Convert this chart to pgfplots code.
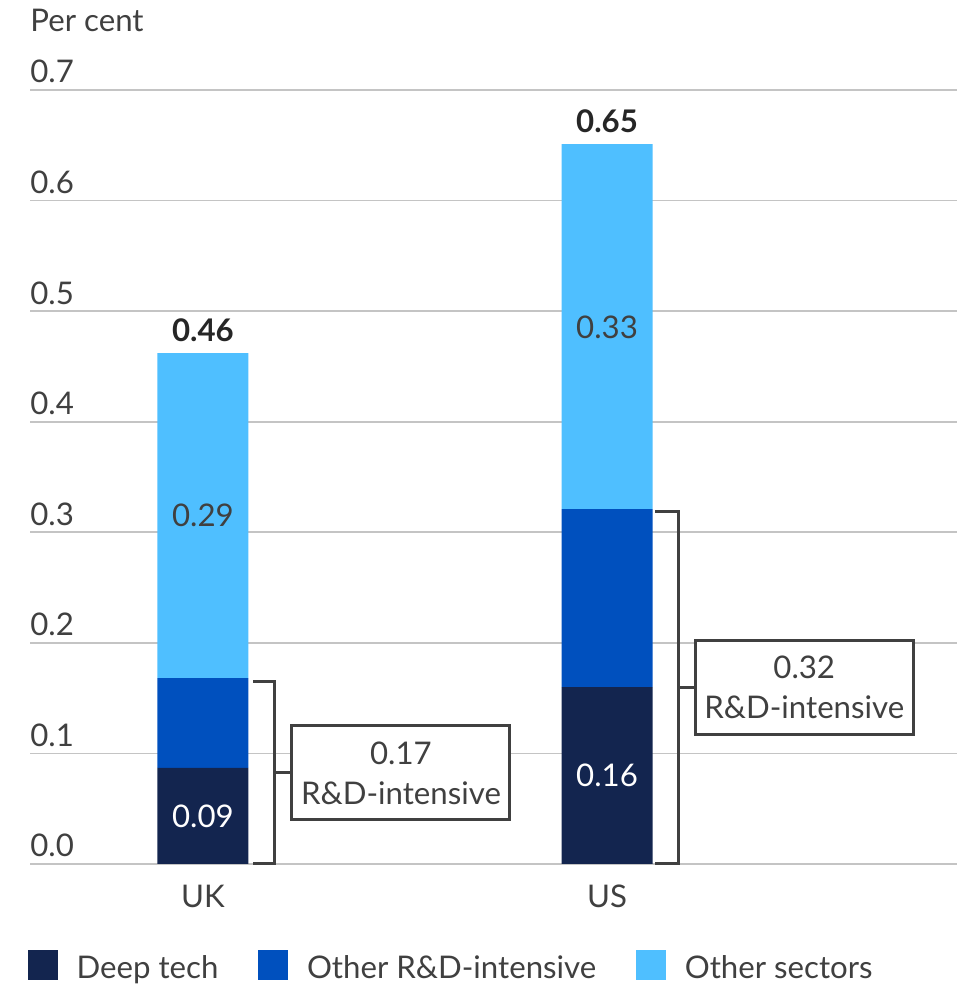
\documentclass[border=0pt]{standalone}
\usepackage{pgfplots}
\pgfplotsset{compat=1.18}
\usepackage{fontspec}
\setmainfont{Lato}
\definecolor{navy}{HTML}{13254F}
\definecolor{midblue}{HTML}{0050BE}
\definecolor{lightblue}{HTML}{4FBFFF}
\definecolor{txt}{HTML}{404040}
\definecolor{gridc}{HTML}{C4C4C4}
\begin{document}
\begin{tikzpicture}[font=\fontsize{15.6}{20}\selectfont]
\path[use as bounding box] (0,0) rectangle (478.5pt,492.5pt);
\begin{axis}[
  at={(15pt,60.5pt)}, anchor=south west,
  scale only axis, width=463.5pt, height=387pt,
  ymin=0, ymax=0.7, xmin=-0.428, xmax=1.866,
  ybar stacked, bar width=45.5pt,
  axis line style={draw=none},
  major tick length=0pt,
  ytick={0,0.1,...,0.7},
  ymajorgrids, grid style={gridc, line width=0.8pt},
  xtick={0,1}, xticklabels={UK,US},
  /pgf/number format/assume math mode=true,
  yticklabel style={anchor=base west, inner sep=0pt, yshift=3.5pt, text=txt,
    /pgf/number format/.cd, fixed, fixed zerofill, precision=1},
  xticklabel style={anchor=base, inner sep=0pt, yshift=-21.5pt, text=txt},
  clip=false,
  legend style={draw=none, fill=none, inner sep=0pt, outer sep=0pt,
    at={(0,0)}, anchor=west, xshift=-1pt, yshift=-51pt,
    legend columns=-1,
    nodes={inner sep=0pt, text=txt},
    /tikz/every odd column/.append style={column sep=9.5pt},
    /tikz/every even column/.append style={column sep=20pt}},
  legend image code/.code={\fill[#1,draw=none] (0pt,-5.3pt) rectangle (14.8pt,9.5pt);},
]
\addplot[fill=navy, draw=none] coordinates {(0,0.087) (1,0.160)};
\addplot[fill=midblue, draw=none] coordinates {(0,0.081) (1,0.161)};
\addplot[fill=lightblue, draw=none] coordinates {(0,0.294) (1,0.330)};
\legend{Deep tech, Other R\&D-intensive, Other sectors}

\coordinate (l09) at (axis cs:0,0.0435);
\coordinate (l16) at (axis cs:1,0.080);
\coordinate (l29) at (axis cs:0,0.315);
\coordinate (l33) at (axis cs:1,0.4855);
\coordinate (t46) at (axis cs:0,0.462);
\coordinate (t65) at (axis cs:1,0.651);

\coordinate (ukA) at (axis cs:0.124,0.165);
\coordinate (ukB) at (axis cs:0.178,0);
\coordinate (ukC) at (axis cs:0.124,0);
\coordinate (ukM) at (axis cs:0.178,0.0823);
\coordinate (ukN) at (axis cs:0.220,0.0823);
\coordinate (ukBox) at (axis cs:0.49,0.0823);

\coordinate (usA) at (axis cs:1.119,0.319);
\coordinate (usB) at (axis cs:1.176,0);
\coordinate (usC) at (axis cs:1.119,0);
\coordinate (usM) at (axis cs:1.176,0.160);
\coordinate (usN) at (axis cs:1.218,0.160);
\coordinate (usBox) at (axis cs:1.488,0.160);

\node[anchor=base west, inner sep=0pt, yshift=29pt, text=txt] at (rel axis cs:0,1) {Per cent};
\end{axis}

\node[text=white] at (l09) {0.09};
\node[text=white] at (l16) {0.16};
\node[text=txt] at (l29) {0.29};
\node[text=txt] at (l33) {0.33};
\node[anchor=south, inner sep=0pt, yshift=5.5pt, text=black!85, font=\fontsize{15.6}{20}\selectfont\bfseries] at (t46) {0.46};
\node[anchor=south, inner sep=0pt, yshift=5.5pt, text=black!85, font=\fontsize{15.6}{20}\selectfont\bfseries] at (t65) {0.65};

\draw[txt, line width=1.5pt] (ukA) -| (ukB) -- (ukC);
\draw[txt, line width=1.5pt] (ukM) -- (ukN);
\node[draw=txt, line width=1.5pt, fill=white, minimum width=109pt, minimum height=47pt, align=center, text=txt] at (ukBox) {0.17\\R\&D-intensive};

\draw[txt, line width=1.5pt] (usA) -| (usB) -- (usC);
\draw[txt, line width=1.5pt] (usM) -- (usN);
\node[draw=txt, line width=1.5pt, fill=white, minimum width=109pt, minimum height=47pt, align=center, text=txt] at (usBox) {0.32\\R\&D-intensive};
\end{tikzpicture}
\end{document}
